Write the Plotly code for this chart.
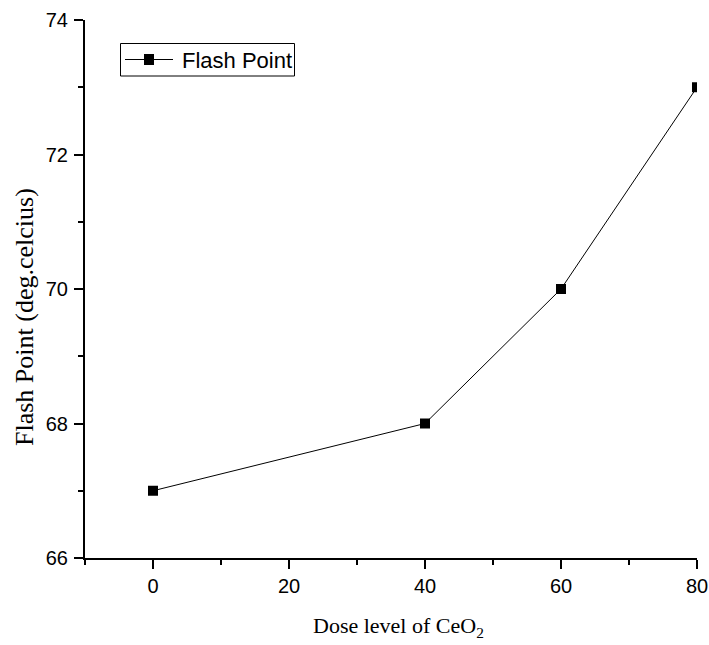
import plotly.graph_objects as go

dose = [0, 40, 60, 80]
flash_point = [67, 68, 70, 73]
series_name = "Flash Point"
x_title = "Dose level of CeO<sub>2</sub>"
y_title = "Flash Point (deg.celcius)"

W, H = 709, 645
L, R, T, B = 85, 12, 20, 87
PW, PH = W - L - R, H - T - B


def px(xp):
    return (xp - L) / PW


def py(yp):
    return 1 - (yp - T) / PH


fig = go.Figure()
fig.add_trace(go.Scatter(
    x=dose, y=flash_point, mode="lines+markers", name=series_name,
    line=dict(color="black", width=1),
    marker=dict(symbol="square", size=10, color="black"),
    showlegend=False,
))

# legend drawn as decoration (box, line sample, marker sample, text)
leg_y = 59.5
shapes = [
    dict(type="rect", xref="paper", yref="paper", x0=px(120.5), x1=px(294.5), y0=py(43.5), y1=py(76),
         line=dict(color="black", width=1), fillcolor="white", layer="above"),
    dict(type="line", xref="paper", yref="paper", x0=px(125), x1=px(173), y0=py(leg_y), y1=py(leg_y),
         line=dict(color="black", width=1), layer="above"),
    dict(type="rect", xref="paper", yref="paper", x0=px(144), x1=px(154), y0=py(54), y1=py(65),
         line=dict(color="black", width=0), fillcolor="black", layer="above"),
]

tickfont = dict(family="Liberation Sans", size=20, color="black")
fig.update_layout(
    width=W, height=H,
    margin=dict(l=L, r=R, t=T, b=B, pad=0, autoexpand=False),
    paper_bgcolor="white", plot_bgcolor="white",
    showlegend=False,
    shapes=shapes,
    xaxis=dict(
        range=[-10, 80], tick0=0, dtick=20, ticks="outside", ticklen=9, tickwidth=1.5,
        tickcolor="black", showline=True, linecolor="black", linewidth=2,
        showgrid=False, zeroline=False, tickfont=tickfont, automargin=False,
        minor=dict(dtick=10, tick0=0, ticks="outside", ticklen=5, tickwidth=1.5, tickcolor="black", showgrid=False),
    ),
    yaxis=dict(
        range=[66, 74], tick0=66, dtick=2, ticks="outside", ticklen=9, tickwidth=1.5,
        tickcolor="black", showline=True, linecolor="black", linewidth=2,
        showgrid=False, zeroline=False, tickfont=tickfont, ticklabelstandoff=2, automargin=False,
        minor=dict(dtick=1, tick0=66, ticks="outside", ticklen=5, tickwidth=1.5, tickcolor="black", showgrid=False),
    ),
    annotations=[
        dict(text=series_name, xref="paper", yref="paper",
             x=px(180), y=py(leg_y + 1), xanchor="left", yanchor="middle", showarrow=False,
             font=dict(family="Liberation Sans", size=22, color="black")),
        dict(text=x_title, xref="paper", yref="paper",
             x=px(398), y=py(627),
             xanchor="center", yanchor="middle", showarrow=False,
             font=dict(family="Liberation Serif", size=22, color="black")),
        dict(text=y_title, xref="paper", yref="paper", textangle=-90,
             x=px(25), y=py(317),
             xanchor="center", yanchor="middle", showarrow=False,
             font=dict(family="Liberation Serif", size=26, color="black")),
    ],
)

fig.write_html("out.html")
